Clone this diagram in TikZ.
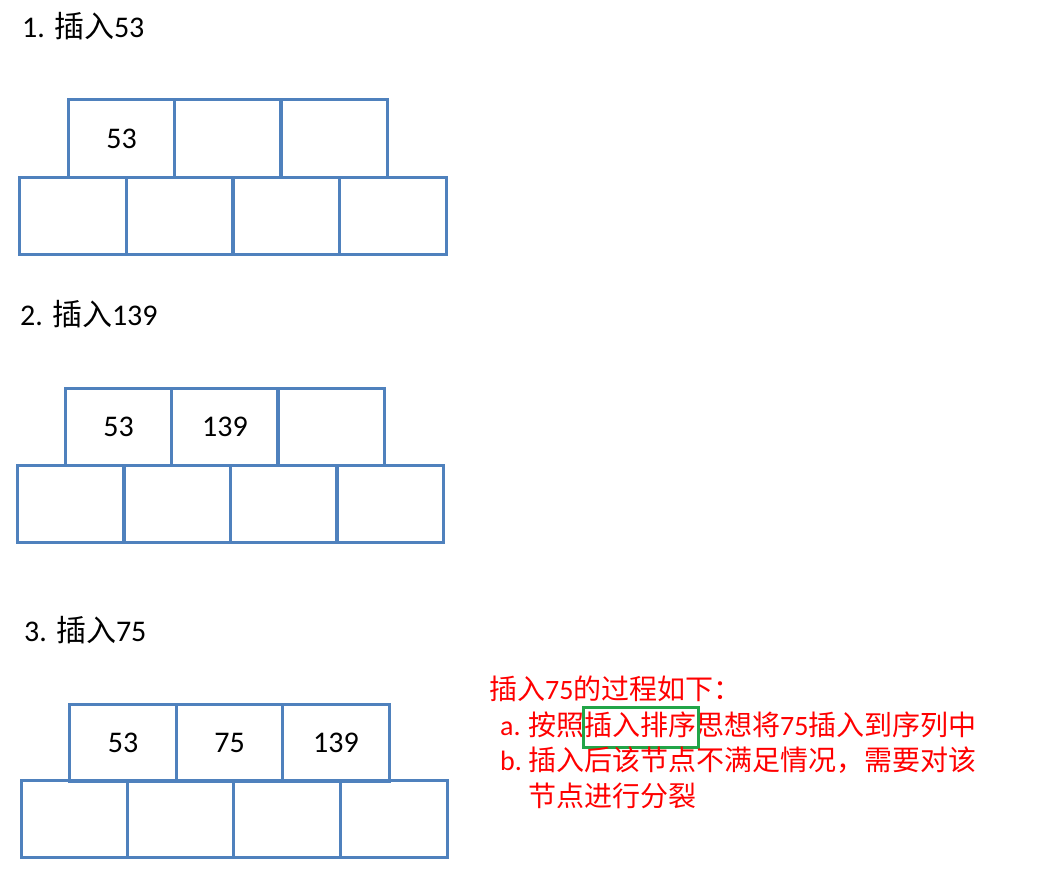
\documentclass[tikz,border=0pt]{standalone}
\usepackage{fontspec}
\setmainfont{Carlito}
\newfontfamily\cjk{Noto Sans CJK SC}
\definecolor{cellblue}{HTML}{4F81BD}
\definecolor{boxgreen}{HTML}{22A548}
\begin{document}
\begin{tikzpicture}[x=1pt,y=-1pt,
  cell/.style={draw=cellblue, line width=3pt, minimum width=106.5pt, minimum height=77pt, inner sep=0pt, font=\fontsize{30}{36}\selectfont},
  steplabel/.style={anchor=base west, inner sep=0pt, font=\fontsize{30}{36}\selectfont},
  note/.style={anchor=base west, inner sep=0pt, text=red, font=\fontsize{28}{34}\selectfont},
  hl/.style={draw=boxgreen, line width=3pt, minimum width=115pt, minimum height=40pt, inner sep=0pt}]
\useasboundingbox (0,0) rectangle (1043,872);
% Step 1
\node[steplabel] (l1) at (22,38) {1. {\cjk 插入}53};
\node[cell] (a1) at (121.5,138.5) {53};
\node[cell] (a2) at (228,138.5) {};
\node[cell] (a3) at (334,138.5) {};
\node[cell] (b1) at (73,215.5) {};
\node[cell] (b2) at (179.5,215.5) {};
\node[cell] (b3) at (286.5,215.5) {};
\node[cell] (b4) at (393,215.5) {};
% Step 2
\node[steplabel] (l2) at (20,325) {2. {\cjk 插入}139};
\node[cell] (c1) at (118.5,426.5) {53};
\node[cell] (c2) at (225,426.5) {139};
\node[cell] (c3) at (331,426.5) {};
\node[cell] (d1) at (70.5,503.5) {};
\node[cell] (d2) at (177.5,503.5) {};
\node[cell] (d3) at (284,503.5) {};
\node[cell] (d4) at (390,503.5) {};
% Step 3
\node[steplabel] (l3) at (24,641) {3. {\cjk 插入}75};
\node[cell] (e1) at (123,742.5) {53};
\node[cell] (e2) at (229.5,742.5) {75};
\node[cell] (e3) at (336,742.5) {139};
\node[cell] (f1) at (74.5,819) {};
\node[cell] (f2) at (180.5,819) {};
\node[cell] (f3) at (287,819) {};
\node[cell] (f4) at (394,819) {};
% Notes
\node[note] (n1) at (489,699) {{\cjk 插入}75{\cjk 的过程如下：}};
\node[note] (n2a) at (500,735) {a.};
\node[note] (n2) at (528,735) {{\cjk 按照插入排序思想将}75{\cjk 插入到序列中}};
\node[hl] (box) at (640.5,727) {};
\node[note] (n3a) at (500,770) {b.};
\node[note] (n3) at (528,770) {\cjk 插入后该节点不满足情况，需要对该};
\node[note] (n4) at (528,806) {\cjk 节点进行分裂};
\end{tikzpicture}
\end{document}
